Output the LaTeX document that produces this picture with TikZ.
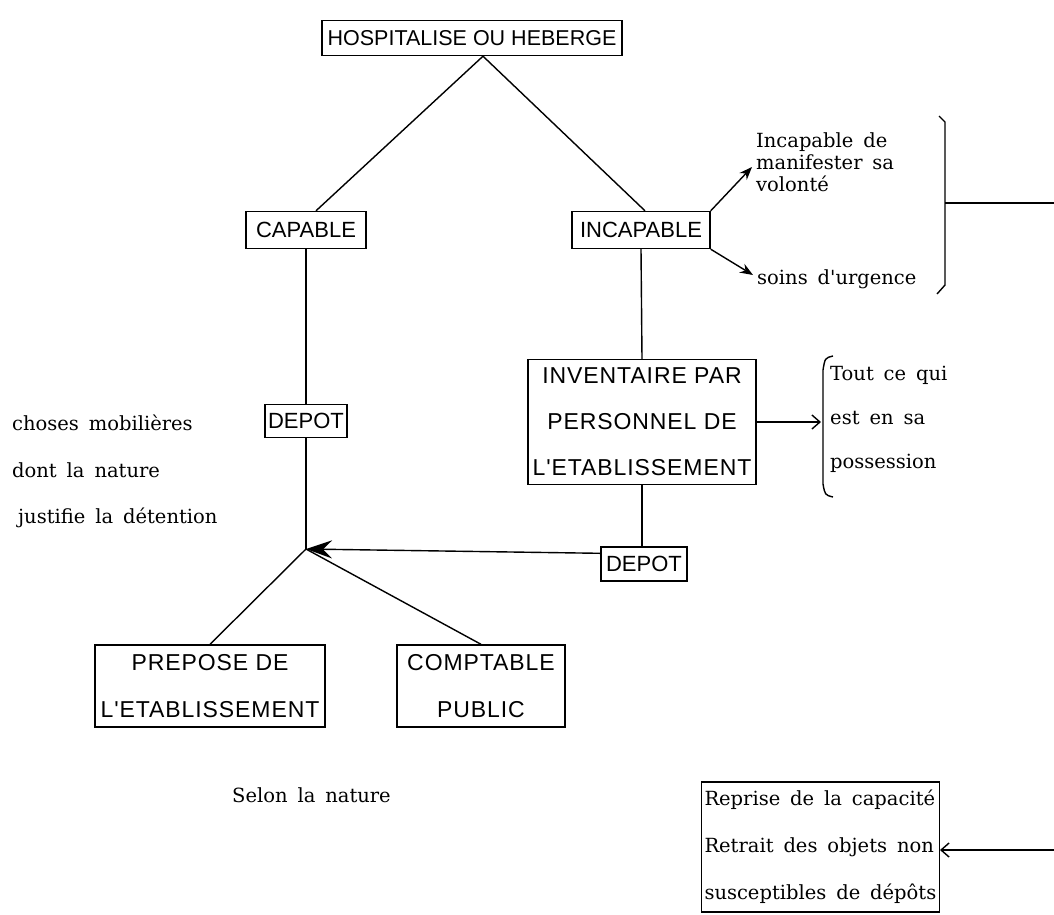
\documentclass[tikz,border=0pt]{standalone}
\usepackage{fontspec}
\usetikzlibrary{arrows.meta,calc}
\newfontfamily\hvf{Liberation Sans}
\newfontfamily\hvs[LetterSpace=4]{Liberation Sans}
\newfontfamily\twf[WordSpace=1.6]{DejaVu Serif}
\begin{document}
\begin{tikzpicture}[x=1pt,y=-1pt,
  sbox/.style={draw, line width=1.4pt, inner sep=0pt, align=center, font=\hvf\fontsize{22}{26}\selectfont},
  ttext/.style={inner sep=0pt, align=left, anchor=west, font=\twf\fontsize{19.5}{22}\selectfont},
  ln/.style={line width=1.4pt},
  fillarrow/.style={ln, -{Stealth[length=13pt,width=10pt]}},
  openarrow/.style={ln, -{Straight Barb[length=8pt,width=14pt]}},
  bigarrow/.style={ln, -{Stealth[length=26pt,width=18pt,inset=9pt]}}]
\useasboundingbox (0,0) rectangle (1054,914);
\fill[white] (0,0) rectangle (1054,914);

% top
\node[sbox, minimum width=300pt, minimum height=35pt, font=\hvf\fontsize{21.5}{24}\selectfont] (top) at (472,38) {HOSPITALISE OU HEBERGE};
\coordinate (apex) at ($(top.south)+(11,0)$);

\node[sbox, minimum width=120pt, minimum height=37pt] (cap) at (306,230) {CAPABLE};
\node[sbox, minimum width=138pt, minimum height=37pt] (incap) at (641,230) {INCAPABLE};
\draw[ln] (apex) -- ($(cap.north)+(10,0)$);
\draw[ln] (apex) -- ($(incap.north)+(4,0)$);

% incapable branches
\coordinate (ua) at (752,167);
\coordinate (la) at (753,275);
\draw[fillarrow] (incap.north east) -- (ua);
\draw[fillarrow] (incap.south east) -- (la);
\node[ttext] (incdesc) at (756,162) {Incapable de\\manifester sa\\volont\'e};
\node[ttext] (soins) at (757,279) {soins d'urgence};

% right brace
\coordinate (rb1) at (939,116);
\coordinate (rb2) at (945,122);
\coordinate (rb3) at (945,285);
\coordinate (rb4) at (937,294);
\coordinate (rbm) at (945,203);
\coordinate (rbe) at (1054,203);
\draw[ln] (rb1) -- (rb2) -- (rb3) -- (rb4);
\draw[ln] (rbm) -- (rbe);

% capable branch
\node[sbox, minimum width=82pt, minimum height=33pt] (dep1) at (306,421) {DEPOT};
\coordinate (J) at (306,549);
\draw[ln] (cap.south) -- (dep1.north);
\draw[ln] (dep1.south) -- (J);

\node[ttext] (ch1) at (12,423) {choses mobili\`eres};
\node[ttext] (ch2) at (12,470) {dont la nature};
\node[ttext] (ch3) at (18,518) {justifie la d\'etention};

% inventaire
\node[sbox, minimum width=228pt, minimum height=125pt, font=\hvs\fontsize{23}{46}\selectfont] (inv) at (642,422) {INVENTAIRE PAR\\PERSONNEL DE\\L'ETABLISSEMENT};
\draw[ln] (incap.south) -- (inv.north);

% left brace
\coordinate (lb1) at (833,356);
\coordinate (lb2) at (823,370);
\coordinate (lb3) at (823,484);
\coordinate (lb4) at (833,497);
\coordinate (lbm) at (821,422);
\draw[ln] (lb1) .. controls (825,358) .. (lb2) -- (lb3) .. controls (825,495) .. (lb4);
\draw[openarrow] (inv.east) -- (lbm);
\node[ttext, font=\twf\fontsize{19.5}{44}\selectfont] (tout) at (830,419) {Tout ce qui\\est en sa\\possession};

% depot 2
\node[sbox, minimum width=86pt, minimum height=34pt] (dep2) at (644,564) {DEPOT};
\draw[ln] (inv.south) -- (inv.south |- dep2.north);
\draw[bigarrow] ($(dep2.north west)+(0,7)$) -- (J);

% bottom boxes
\node[sbox, minimum width=230pt, minimum height=82pt, font=\hvs\fontsize{23}{47}\selectfont] (prep) at (210,686) {PREPOSE DE\\L'ETABLISSEMENT};
\node[sbox, minimum width=168pt, minimum height=82pt, font=\hvs\fontsize{23}{47}\selectfont] (compt) at (481,686) {COMPTABLE\\PUBLIC};
\draw[ln] (J) -- (prep.north);
\draw[ln] (J) -- (compt.north);

\node[ttext] (selon) at (232,795) {Selon la nature};

% bottom right
\node[draw, line width=1.4pt, inner xsep=3pt, inner ysep=0pt, minimum height=130pt, align=left, anchor=east, font=\twf\fontsize{19.5}{47}\selectfont] (rep) at (940,847) {Reprise de la capacit\'e\\Retrait des objets non\\susceptibles de d\'ep\^ots};
\coordinate (rend) at (1054,850);
\draw[openarrow] (rend) -- (rend -| rep.east);
\end{tikzpicture}
\end{document}
